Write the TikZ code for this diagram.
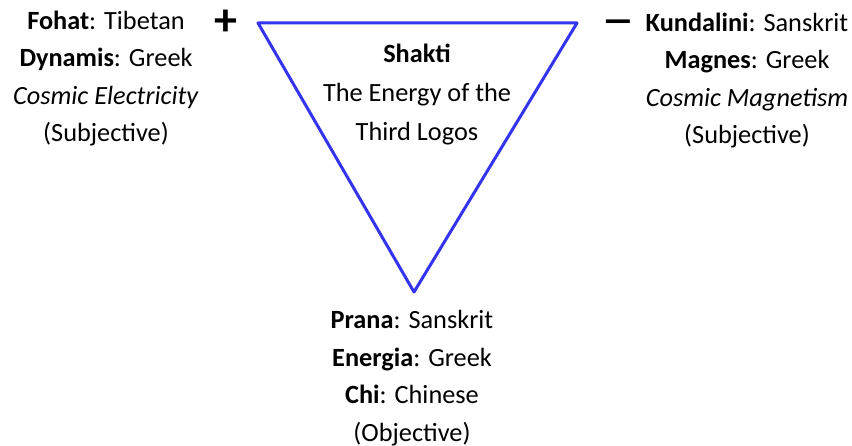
\documentclass[tikz,border=0pt]{standalone}
\usepackage{fontspec}
\setmainfont{Carlito}
\definecolor{triblue}{RGB}{51,51,240}
\begin{document}
\begin{tikzpicture}[x=1bp,y=-1bp,
  block/.style={align=center,inner sep=0pt,anchor=base,font=\fontsize{26.3bp}{37.5bp}\selectfont},
  sign/.style={inner sep=0pt,font=\bfseries\fontsize{46bp}{46bp}\selectfont}]
\useasboundingbox (0,0) rectangle (852,446);
\coordinate (tl) at (258,23);
\coordinate (tr) at (577,23);
\coordinate (bt) at (414,292);
\draw[triblue,line width=3bp,line join=round] (tl) -- (tr) -- (bt) -- cycle;
\node[block,font=\fontsize{26.3bp}{39bp}\selectfont] (shakti) at (417,141) {\textbf{Shakti}\\The Energy of the\\Third Logos};
\node[block] (left) at (106,142) {\textbf{Fohat}: Tibetan\\\textbf{Dynamis}: Greek\\\textit{Cosmic Electricity}\\(Subjective)};
\node[block] (right) at (747,144) {\textbf{Kundalini}: Sanskrit\\\textbf{Magnes}: Greek\\\textit{Cosmic Magnetism}\\(Subjective)};
\node[block] (bottom) at (412,441) {\textbf{Prana}: Sanskrit\\\textbf{Energia}: Greek\\\textbf{Chi}: Chinese\\(Objective)};
\node[sign] (plus) at (225.5,23) {+};
\node[sign,anchor=base,font=\bfseries\fontsize{26bp}{26bp}\selectfont] (minus) at (618.5,34) {\scalebox{2.6}[1.6]{–}};
\end{tikzpicture}
\end{document}
